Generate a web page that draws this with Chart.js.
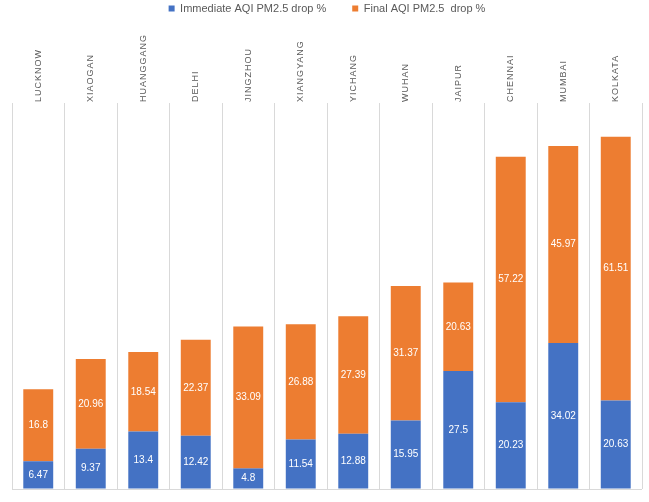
<!DOCTYPE html>
<html>
<head>
<meta charset="utf-8">
<script src="https://cdn.jsdelivr.net/npm/chart.js@4"></script>
<style>
  html, body { margin: 0; padding: 0; background: #fff; }
  #wrap { width: 649px; height: 502px; }
</style>
</head>
<body>
<div id="wrap"><canvas id="myChart"></canvas></div>
<script>
// data
var cities = ['LUCKNOW', 'XIAOGAN', 'HUANGGANG', 'DELHI', 'JINGZHOU', 'XIANGYANG', 'YICHANG', 'WUHAN', 'JAIPUR', 'CHENNAI', 'MUMBAI', 'KOLKATA'];
var immediateDrop = [6.47, 9.37, 13.4, 12.42, 4.8, 11.54, 12.88, 15.95, 27.5, 20.23, 34.02, 20.63];
var finalDrop = [16.8, 20.96, 18.54, 22.37, 33.09, 26.88, 27.39, 31.37, 20.63, 57.22, 45.97, 61.51];
var yMax = 90;

// white value labels inside each segment, then letter spacing for the city names
var barLabels = {
    id: 'barLabels',
    afterDatasetsDraw: function(chart) {
        var ctx = chart.ctx;
        ctx.save();
        ctx.font = '10px "Liberation Sans", Arial, sans-serif';
        ctx.fillStyle = '#ffffff';
        ctx.textAlign = 'center';
        ctx.textBaseline = 'middle';
        chart.data.datasets.forEach(function(ds, i) {
            chart.getDatasetMeta(i).data.forEach(function(bar, j) {
                var p = bar.getCenterPoint();
                ctx.fillText(String(ds.data[j]), p.x, p.y);
            });
        });
        ctx.restore();
        // x labels are drawn after this (ticks z: 1), spread their letters
        var orig = CanvasRenderingContext2D.prototype.fillText;
        ctx.fillText = function(t, x, y, w) {
            this.letterSpacing = '1px';
            if (w === undefined) orig.call(this, t, x, y);
            else orig.call(this, t, x, y, w);
        };
    },
    afterDraw: function(chart) {
        delete chart.ctx.fillText;
        chart.ctx.letterSpacing = '0px';
    }
};

var ctx = document.getElementById('myChart').getContext('2d');
var myChart = new Chart(ctx, {
    type: 'bar',
    data: {
        labels: cities,
        datasets: [{
            label: 'Immediate AQI PM2.5 drop %',
            data: immediateDrop,
            backgroundColor: '#4472C4'
        }, {
            label: 'Final AQI PM2.5  drop %',
            data: finalDrop,
            backgroundColor: '#ED7D31'
        }]
    },
    options: {
        responsive: true,
        maintainAspectRatio: false,
        animation: false,
        layout: {
            padding: { left: 12, right: 7, bottom: 13, top: -23 }
        },
        datasets: {
            bar: { categoryPercentage: 1, barPercentage: 0.57 }
        },
        plugins: {
            legend: {
                position: 'top',
                labels: {
                    boxWidth: 6,
                    boxHeight: 6,
                    padding: 26,
                    color: '#595959',
                    font: { family: '"Liberation Sans", Arial, sans-serif', size: 11 }
                }
            },
            tooltip: { enabled: false }
        },
        scales: {
            x: {
                position: 'top',
                stacked: true,
                border: { display: false },
                grid: { color: '#d9d9d9', drawTicks: false, offset: true },
                ticks: {
                    z: 1,
                    minRotation: 90,
                    maxRotation: 90,
                    padding: 1,
                    labelOffset: 11,
                    color: '#595959',
                    font: { family: '"Liberation Sans", Arial, sans-serif', size: 9 }
                },
                afterFit: function(scale) {
                    scale.height = 79;
                }
            },
            y: {
                stacked: true,
                min: 0,
                max: yMax,
                border: { display: false },
                grid: {
                    drawTicks: false,
                    color: function(c) { return c.tick.value === 0 ? '#d9d9d9' : 'rgba(0,0,0,0)'; }
                },
                ticks: { display: false }
            }
        }
    },
    plugins: [barLabels]
});
</script>
</body>
</html>
